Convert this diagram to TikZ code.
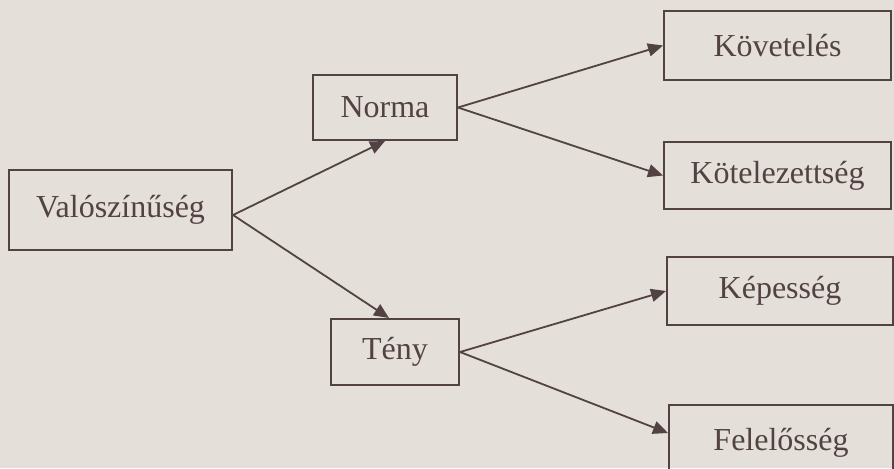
\documentclass[tikz,border=0pt]{standalone}
\usepackage{fontspec}
\setmainfont{Liberation Serif}
\usetikzlibrary{arrows.meta}
\definecolor{paper}{HTML}{E4E0D9}
\definecolor{ink}{HTML}{534244}
\tikzset{
  box/.style={draw=ink, line width=1pt, rectangle, inner sep=0pt, text=ink,
    font=\fontsize{16}{19}\selectfont},
  link/.style={draw=ink, line width=0.9pt, -{Triangle[length=7.5pt,width=6.5pt]}}
}
\begin{document}
\begin{tikzpicture}[x=0.5pt,y=-0.5pt]
\fill[paper] (0,0) rectangle (894,468);
\useasboundingbox (0,0) rectangle (894,468);
\begin{scope}
\clip (0,0) rectangle (894,468);
\node[box, minimum width=111.5pt, minimum height=40pt] (val) at (120.5,210) {Valószínűség};
\node[box, minimum width=72pt, minimum height=32.5pt] (norma) at (385,107.5) {Norma};
\node[box, minimum width=64pt, minimum height=33pt] (teny) at (395,352) {Tény};
\node[box, minimum width=113.5pt, minimum height=34.5pt] (kov) at (777.5,45.5) {Követelés};
\node[box, minimum width=113.5pt, minimum height=33.5pt] (kot) at (777.5,175.5) {Kötelezettség};
\node[box, minimum width=113pt, minimum height=34pt] (kep) at (780,291) {Képesség};
\node[box, minimum width=112pt, minimum height=35pt, text depth=0pt] (fel) at (781,440) {\raisebox{1pt}{Felelősség}};
\coordinate (vout) at ([yshift=-2.5pt]val.east);
\draw[link] (vout) -- (norma.south);
\draw[link] (vout) -- (teny.100);
\draw[link] (norma.east) -- (kov.west);
\draw[link] (norma.east) -- (kot.west);
\draw[link] (teny.east) -- (kep.west);
\draw[link] (teny.east) -- ([yshift=3.5pt]fel.west);
\end{scope}
\end{tikzpicture}
\end{document}
